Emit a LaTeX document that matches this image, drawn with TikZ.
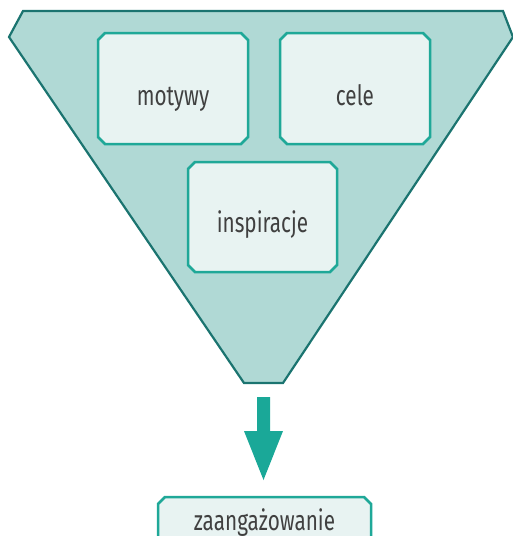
\documentclass[tikz,border=0pt]{standalone}
\usepackage{fontspec}
\setmainfont{Fira Sans}[FakeStretch=0.74]
\definecolor{funnelfill}{HTML}{B0D9D5}
\definecolor{funneldraw}{HTML}{1B7470}
\definecolor{boxfill}{HTML}{E8F3F2}
\definecolor{boxdraw}{HTML}{1FA898}
\definecolor{arrowc}{HTML}{1AA898}
\definecolor{txt}{HTML}{404040}
\tikzset{
  boxtext/.style={rectangle, inner sep=0pt, outer sep=0pt, text=txt,
    font=\fontsize{28}{32}\selectfont},
  boxline/.style={draw=boxdraw, fill=boxfill, line width=2.5pt, line join=miter},
}
% chamfered frame drawn around a named node
\newcommand\chamframe[2][7pt]{%
  \path[boxline]
    ([xshift=#1]#2.north west) -- ([xshift=-#1]#2.north east)
    -- ([yshift=-#1]#2.north east) -- ([yshift=#1]#2.south east)
    -- ([xshift=-#1]#2.south east) -- ([xshift=#1]#2.south west)
    -- ([yshift=#1]#2.south west) -- ([yshift=-#1]#2.north west) -- cycle;}
\begin{document}
\begin{tikzpicture}[x=1pt,y=-1pt]
\useasboundingbox (0,0) rectangle (513,536);
% funnel outline
\draw[funneldraw, fill=funnelfill, line width=2.2pt, line join=miter]
  (23,11) -- (503,11) -- (513,37) -- (283,383) -- (244,383) -- (9,37) -- cycle;
% three boxes inside the funnel
\path node[boxtext, minimum width=150pt, minimum height=111pt] (mot) at (173,88.5) {};
\path node[boxtext, minimum width=150pt, minimum height=111pt] (cel) at (355,88.5) {};
\path node[boxtext, minimum width=149pt, minimum height=110pt] (ins) at (262.5,217) {};
\chamframe{mot}\chamframe{cel}\chamframe{ins}
\node[boxtext, anchor=base] at ([yshift=-17pt]mot.center) {motywy};
\node[boxtext, anchor=base] at ([yshift=-17pt]cel.center) {cele};
\node[boxtext, anchor=base] at ([yshift=-15pt]ins.center) {inspiracje};
% result box below
\path node[boxtext, minimum width=213pt, minimum height=50pt] (zaa) at (264.5,522) {};
\chamframe{zaa}
\node[boxtext, anchor=base] at ([yshift=-8pt]zaa.center) {zaangażowanie};
% block arrow from the funnel to the result
\coordinate (atop) at (263.5,397);
\coordinate (atip) at (263.5,480);
\fill[arrowc] ([xshift=-6.5pt]atop) -- ([xshift=6.5pt]atop) -- (270,431) -- (283,431)
  -- (atip) -- (244,431) -- (257,431) -- cycle;
\end{tikzpicture}
\end{document}
